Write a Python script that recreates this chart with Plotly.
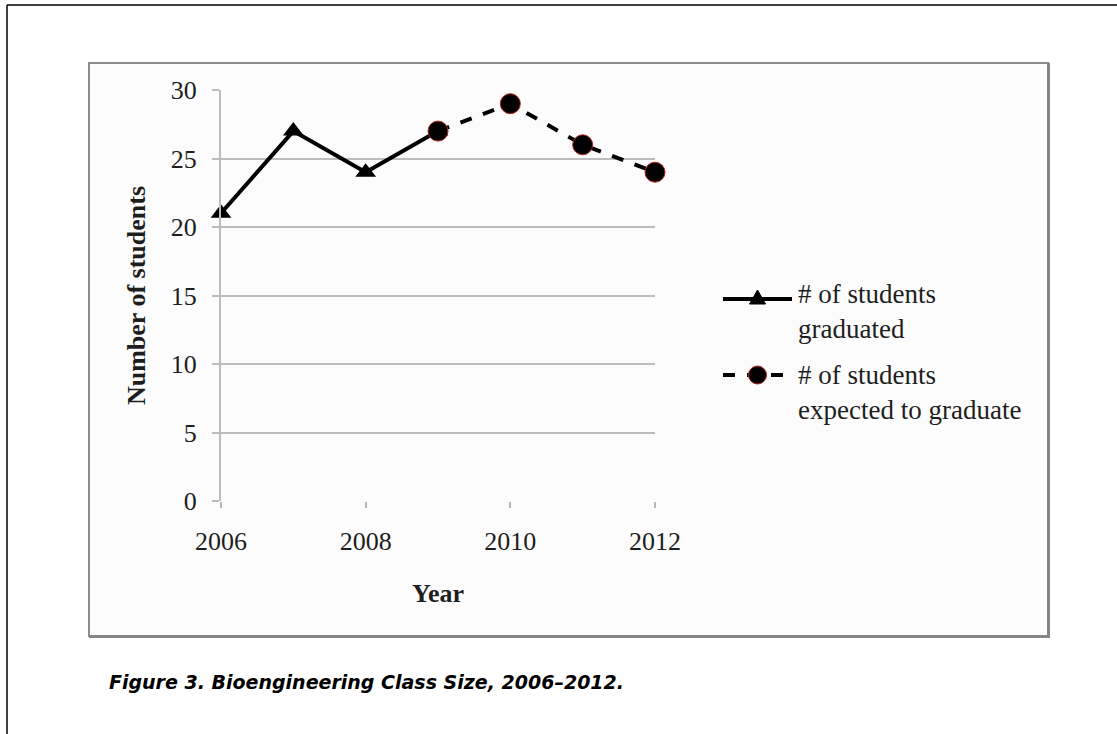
import plotly.graph_objects as go

# Class size data
years_grad = [2006, 2007, 2008, 2009]
students_grad = [21, 27, 24, 27]
years_exp = [2009, 2010, 2011, 2012]
students_exp = [27, 29, 26, 24]

y_ticks = [0, 5, 10, 15, 20, 25, 30]
x_ticks = [2006, 2008, 2010, 2012]

W, H = 1117, 734
SERIF = "Liberation Serif, Times New Roman, serif"
TEXT = "#1e1e1e"


def px(x):
    return x / W


def py(y):
    return 1 - y / H


fig = go.Figure()

fig.add_trace(go.Scatter(
    x=years_grad, y=students_grad, mode="lines+markers",
    line=dict(color="black", width=4),
    marker=dict(symbol="triangle-up", size=18, color="black"),
    cliponaxis=False, showlegend=False,
))
fig.add_trace(go.Scatter(
    x=years_exp, y=students_exp, mode="lines+markers",
    line=dict(color="black", width=4, dash="dash"),
    marker=dict(symbol="circle", size=20, color="black",
                line=dict(color="#b02020", width=1)),
    cliponaxis=False, showlegend=False,
))

shapes = []
# outer frame lines (top and left)
shapes.append(dict(type="line", xref="paper", yref="paper",
                   x0=px(7), x1=1, y0=py(5), y1=py(5),
                   line=dict(color="black", width=1.5)))
shapes.append(dict(type="line", xref="paper", yref="paper",
                   x0=px(7), x1=px(7), y0=py(5), y1=0,
                   line=dict(color="black", width=1.5)))
# chart area box with a heavier right/bottom edge
shapes.append(dict(type="rect", xref="paper", yref="paper",
                   x0=px(89), x1=px(1048), y0=py(63), y1=py(636),
                   fillcolor="#fcfcfc", line=dict(color="#8c8c8c", width=2),
                   layer="below"))
shapes.append(dict(type="line", xref="paper", yref="paper",
                   x0=px(1048.5), x1=px(1048.5), y0=py(63), y1=py(637),
                   line=dict(color="#858585", width=3)))
shapes.append(dict(type="line", xref="paper", yref="paper",
                   x0=px(89), x1=px(1050), y0=py(636.5), y1=py(636.5),
                   line=dict(color="#858585", width=3)))

# legend glyphs
lg_x0, lg_x1 = 723, 792
lg1_y, lg2_y = 299, 375
lg_mid = (lg_x0 + lg_x1) / 2
shapes.append(dict(type="line", xref="paper", yref="paper",
                   x0=px(lg_x0), x1=px(lg_x1), y0=py(lg1_y), y1=py(lg1_y),
                   line=dict(color="black", width=4)))
shapes.append(dict(type="path", xref="paper", yref="paper",
                   path=f"M {px(lg_mid-8)},{py(lg1_y+5)} L {px(lg_mid+8)},{py(lg1_y+5)} L {px(lg_mid)},{py(lg1_y-9)} Z",
                   fillcolor="black", line=dict(color="black", width=1)))
shapes.append(dict(type="line", xref="paper", yref="paper",
                   x0=px(lg_x0), x1=px(lg_x1), y0=py(lg2_y), y1=py(lg2_y),
                   line=dict(color="black", width=4, dash="dash")))
shapes.append(dict(type="circle", xref="paper", yref="paper",
                   x0=px(lg_mid-9), x1=px(lg_mid+9), y0=py(lg2_y+9), y1=py(lg2_y-9),
                   fillcolor="black", line=dict(color="#b02020", width=1)))

annotations = [
    dict(text="# of students<br>graduated", xref="paper", yref="paper",
         x=px(796), y=py(311), xanchor="left", yanchor="middle", showarrow=False,
         align="left", font=dict(family=SERIF, size=27, color=TEXT)),
    dict(text="# of students<br>expected to graduate", xref="paper", yref="paper",
         x=px(796), y=py(392), xanchor="left", yanchor="middle", showarrow=False,
         align="left", font=dict(family=SERIF, size=27, color=TEXT)),
    dict(text="Figure 3. Bioengineering Class Size, 2006–2012.",
         xref="paper", yref="paper", x=px(107), y=py(682),
         xanchor="left", yanchor="middle", showarrow=False,
         font=dict(family="DejaVu Sans, sans-serif", size=19, color="black",
                   weight="bold", style="italic")),
]

fig.update_layout(
    width=W, height=H, autosize=False,
    margin=dict(l=0, r=0, t=0, b=0, pad=0, autoexpand=False),
    paper_bgcolor="white", plot_bgcolor="rgba(0,0,0,0)",
    shapes=shapes, annotations=annotations,
    xaxis=dict(
        domain=[px(221), px(655)], range=[2006, 2012], automargin=False,
        tickvals=x_ticks, ticktext=[str(v) for v in x_ticks],
        showgrid=False, zeroline=False,
        showline=False, ticks="outside", ticklen=6, tickcolor="#b8b8b8", tickwidth=2,
        ticklabelstandoff=11,
        tickfont=dict(family=SERIF, size=26, color=TEXT),
        title=dict(text="<b>Year</b>", font=dict(family=SERIF, size=26, color=TEXT),
                   standoff=28),
    ),
    yaxis=dict(
        domain=[py(501), py(90)], range=[0, 30], automargin=False,
        tickvals=y_ticks,
        showgrid=True, gridcolor="#bdbdbd", gridwidth=2,
        zeroline=False, showline=True, linecolor="#bdbdbd", linewidth=2,
        ticks="outside", ticklen=7, tickcolor="#bdbdbd", tickwidth=2,
        ticklabelstandoff=10,
        tickfont=dict(family=SERIF, size=26, color=TEXT),
        title=dict(text="<b>Number of students</b>",
                   font=dict(family=SERIF, size=26, color=TEXT), standoff=18),
    ),
)

fig.write_html("out.html")
